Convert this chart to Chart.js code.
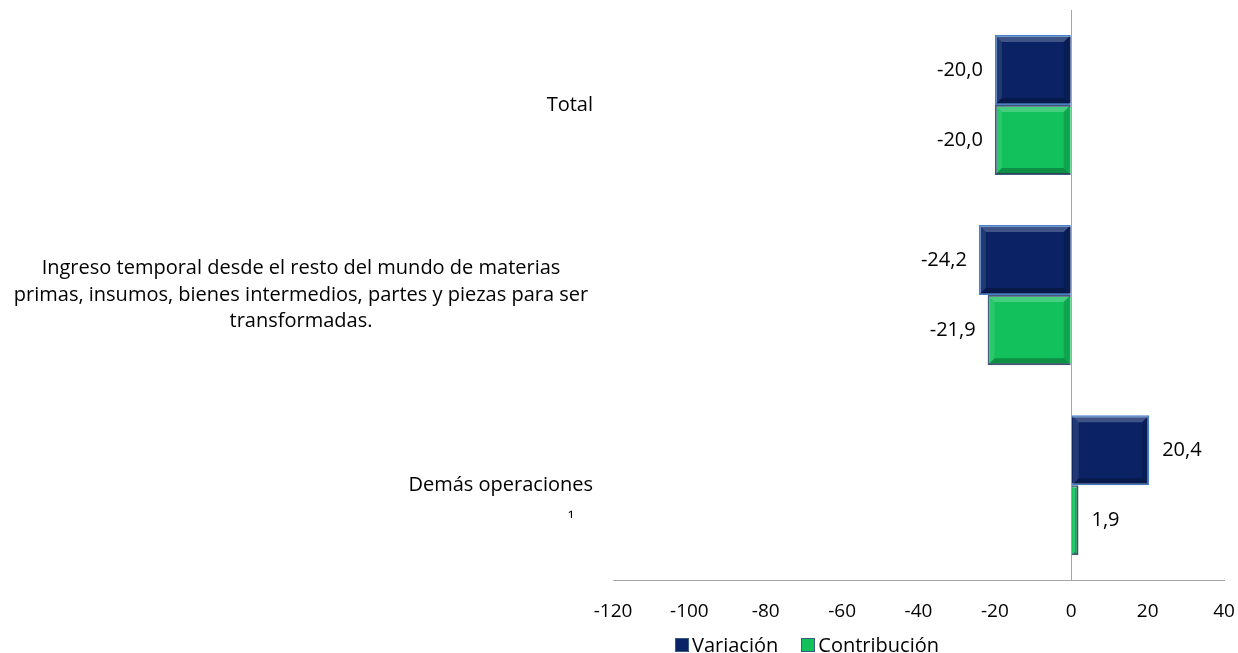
<!DOCTYPE html>
<html>
<head>
<meta charset="utf-8">
<script src="https://cdn.jsdelivr.net/npm/chart.js@4.4.0/dist/chart.umd.min.js"></script>
<style>
  html, body { margin: 0; padding: 0; background: #fff; }
  #wrap { position: relative; width: 1238px; height: 653px; overflow: hidden; }
  #legend {
    position: absolute; left: 675px; top: 632px;
    font-family: 'Open Sans', sans-serif; font-size: 20px; color: #000;
    display: flex; align-items: center; white-space: nowrap; line-height: 26px;
  }
  #legend span.box { display: inline-block; width: 12px; height: 12px; margin-right: 3px; border: 1px solid #3a5a80; }
  #legend span.item { display: inline-flex; align-items: center; margin-right: 23px; }
</style>
</head>
<body>
<div id="wrap">
  <canvas id="chart" width="1238" height="653"></canvas>
  <div id="legend"></div>
</div>
<script>
const categories = [
  ['Total'],
  ['Ingreso temporal desde el resto del mundo de materias',
   'primas, insumos, bienes intermedios, partes y piezas para ser',
   'transformadas.'],
  ['Demás operaciones']
];
const footnoteMark = '¹';
const variacion = [-20.0, -24.2, 20.4];
const contribucion = [-20.0, -21.9, 1.9];
const xTicks = [-120, -100, -80, -60, -40, -20, 0, 20, 40];
const seriesNames = ['Variación', 'Contribución'];

const FONT = "'Open Sans', sans-serif";
const navy = '#0b2364';
const green = '#12c15c';

// per category: how the label block is aligned
const labelLayout = [
  { align: 'right', x: 593 },
  { align: 'center', x: 301 },
  { align: 'right', x: 593 }
];

const categoryLabels = {
  id: 'categoryLabels',
  afterDraw(chart) {
    const ctx = chart.ctx;
    const yScale = chart.scales.y;
    ctx.save();
    ctx.font = '20px ' + FONT;
    ctx.fillStyle = '#000';
    ctx.textBaseline = 'middle';
    const lh = 26.5;
    categories.forEach((lines, i) => {
      const cy = yScale.getPixelForValue(i);
      const lay = labelLayout[i];
      ctx.textAlign = lay.align;
      const y0 = cy - (lines.length - 1) * lh / 2;
      lines.forEach((t, k) => ctx.fillText(t, lay.x, y0 + k * lh));
    });
    // footnote marker under the last category
    ctx.textAlign = 'center';
    ctx.font = '17px ' + FONT;
    ctx.fillText(footnoteMark, 571, yScale.getPixelForValue(2) + 35);
    ctx.restore();
  }
};

// soft bevel on each bar, like the office style of the original
const bevel = {
  id: 'bevel',
  afterDatasetsDraw(chart) {
    const ctx = chart.ctx;
    ctx.save();
    chart.data.datasets.forEach((ds, di) => {
      chart.getDatasetMeta(di).data.forEach((bar) => {
        const p = bar.getProps(['x', 'y', 'base', 'height'], true);
        const l = Math.min(p.x, p.base) + 1, r = Math.max(p.x, p.base) - 1;
        const t = p.y - p.height / 2 + 1, b = p.y + p.height / 2 - 1;
        const d = Math.min(6, (r - l) / 2, (b - t) / 2);
        if (d < 2) return;
        // top facet
        ctx.fillStyle = 'rgba(255,255,255,0.22)';
        ctx.beginPath();
        ctx.moveTo(l, t); ctx.lineTo(r, t); ctx.lineTo(r - d, t + d); ctx.lineTo(l + d, t + d);
        ctx.closePath(); ctx.fill();
        // left facet
        ctx.fillStyle = 'rgba(255,255,255,0.10)';
        ctx.beginPath();
        ctx.moveTo(l, t); ctx.lineTo(l + d, t + d); ctx.lineTo(l + d, b - d); ctx.lineTo(l, b);
        ctx.closePath(); ctx.fill();
        // bottom and right facets
        ctx.fillStyle = 'rgba(0,0,0,0.25)';
        ctx.beginPath();
        ctx.moveTo(l, b); ctx.lineTo(l + d, b - d); ctx.lineTo(r - d, b - d); ctx.lineTo(r, b);
        ctx.closePath(); ctx.fill();
        ctx.fillStyle = 'rgba(0,0,0,0.15)';
        ctx.beginPath();
        ctx.moveTo(r, t); ctx.lineTo(r, b); ctx.lineTo(r - d, b - d); ctx.lineTo(r - d, t + d);
        ctx.closePath(); ctx.fill();
      });
    });
    ctx.restore();
  }
};

const valueLabels = {
  id: 'valueLabels',
  afterDatasetsDraw(chart) {
    const ctx = chart.ctx;
    ctx.save();
    ctx.font = '20px ' + FONT;
    ctx.fillStyle = '#000';
    ctx.textBaseline = 'middle';
    chart.data.datasets.forEach((ds, di) => {
      const meta = chart.getDatasetMeta(di);
      meta.data.forEach((bar, i) => {
        const v = ds.data[i];
        const txt = v.toFixed(1).replace('.', ',');
        if (v < 0) {
          ctx.textAlign = 'right';
          ctx.fillText(txt, bar.x - 12, bar.y);
        } else {
          ctx.textAlign = 'left';
          ctx.fillText(txt, bar.x + 13, bar.y);
        }
      });
    });
    ctx.restore();
  }
};

const ctx = document.getElementById('chart').getContext('2d');
const chart = new Chart(ctx, {
  type: 'bar',
  data: {
    labels: categories.map(c => c.join(' ')),
    datasets: [
      {
        label: seriesNames[0],
        data: variacion,
        backgroundColor: navy,
        borderColor: '#4a7fc4',
        borderWidth: 2,
        categoryPercentage: 0.737,
        barPercentage: 1.0
      },
      {
        label: seriesNames[1],
        data: contribucion,
        backgroundColor: green,
        borderColor: '#3f5b7a',
        borderWidth: 2,
        categoryPercentage: 0.737,
        barPercentage: 1.0
      }
    ]
  },
  options: {
    indexAxis: 'y',
    responsive: false,
    animation: false,
    layout: { padding: { left: 613, right: 14, top: 10, bottom: 10 } },
    scales: {
      x: {
        min: -120,
        max: 40,
        afterBuildTicks: (scale) => { scale.ticks = xTicks.map(v => ({ value: v })); },
        // last label may hang past the plot edge, like the original
        afterFit: (scale) => { scale.paddingRight = 0; scale.paddingLeft = 0; },
        ticks: {
          font: { family: FONT, size: 19 },
          color: '#000',
          padding: 20,
          maxRotation: 0,
          callback: (v) => String(v)
        },
        grid: {
          drawTicks: false,
          color: (c) => (c.tick && c.tick.value === 0 ? '#a6a6a6' : 'rgba(0,0,0,0)'),
          lineWidth: 1
        },
        border: { display: true, color: '#a6a6a6', width: 1 }
      },
      y: {
        display: false
      }
    },
    plugins: {
      legend: { display: false },
      tooltip: { enabled: false }
    }
  },
  plugins: [bevel, categoryLabels, valueLabels]
});

// html legend
const legendEl = document.getElementById('legend');
[navy, green].forEach((col, i) => {
  const item = document.createElement('span');
  item.className = 'item';
  const box = document.createElement('span');
  box.className = 'box';
  box.style.background = col;
  item.appendChild(box);
  item.appendChild(document.createTextNode(seriesNames[i]));
  legendEl.appendChild(item);
});
</script>
</body>
</html>
